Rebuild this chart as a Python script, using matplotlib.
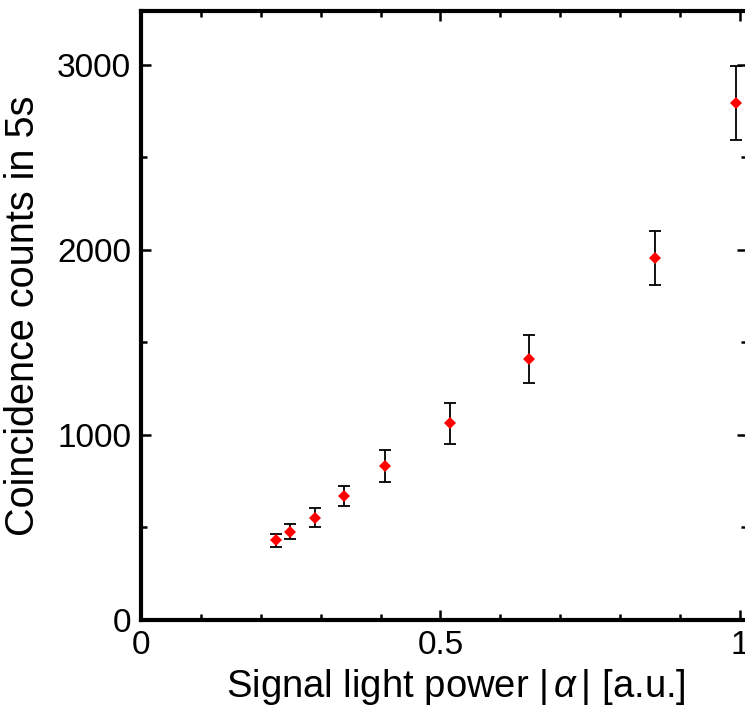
import numpy as np
import matplotlib
matplotlib.use('Agg')
import matplotlib.pyplot as plt
from matplotlib.ticker import MultipleLocator

matplotlib.rcParams['font.family'] = ['Liberation Sans', 'DejaVu Sans']
matplotlib.rcParams['mathtext.fontset'] = 'custom'
matplotlib.rcParams['mathtext.it'] = 'Liberation Sans:italic'

# signal power |alpha| and coincidence counts
power = [0.225, 0.249, 0.290, 0.339, 0.408, 0.516, 0.648, 0.858, 0.994]
counts = [432, 477, 553, 672, 832, 1063, 1411, 1957, 2796]
count_err = [35, 40, 50, 54, 85, 110, 130, 146, 200]

fig = plt.figure(figsize=(7.45, 7.17), dpi=100)
ax = fig.add_axes([0.1893, 0.1353, 0.8134, 0.849])

ax.errorbar(power, counts, yerr=count_err, fmt='none', ecolor='black',
            elinewidth=1.3, capsize=4.5, capthick=1.3, zorder=2)
ax.plot(power, counts, 'D', color='red', markersize=6.5, markeredgewidth=0, zorder=3)

ax.set_xlim(0, 1.012)
ax.set_ylim(0, 3290)
ax.xaxis.set_major_locator(MultipleLocator(0.5))
ax.xaxis.set_minor_locator(MultipleLocator(0.1))
ax.yaxis.set_major_locator(MultipleLocator(1000))
ax.yaxis.set_minor_locator(MultipleLocator(500))
ax.set_xticks([0, 0.5, 1])
ax.set_xticklabels(['0', '0.5', '1'])

for s in ax.spines.values():
    s.set_linewidth(3)
ax.tick_params(which='both', direction='in', top=True, right=True,
               labelsize=24, width=1.8, pad=7)
ax.tick_params(which='major', length=7)
ax.tick_params(which='minor', length=4)

ax.set_xlabel('Signal light power |$\\,\\alpha\\,$| [a.u.]', fontsize=27.5)
ax.set_ylabel('Coincidence counts in 5s', fontsize=28.5)
ax.xaxis.set_label_coords(0.52, -0.077)
ax.yaxis.set_label_coords(-0.163, 0.5)

fig.savefig('out.png', dpi=100)
